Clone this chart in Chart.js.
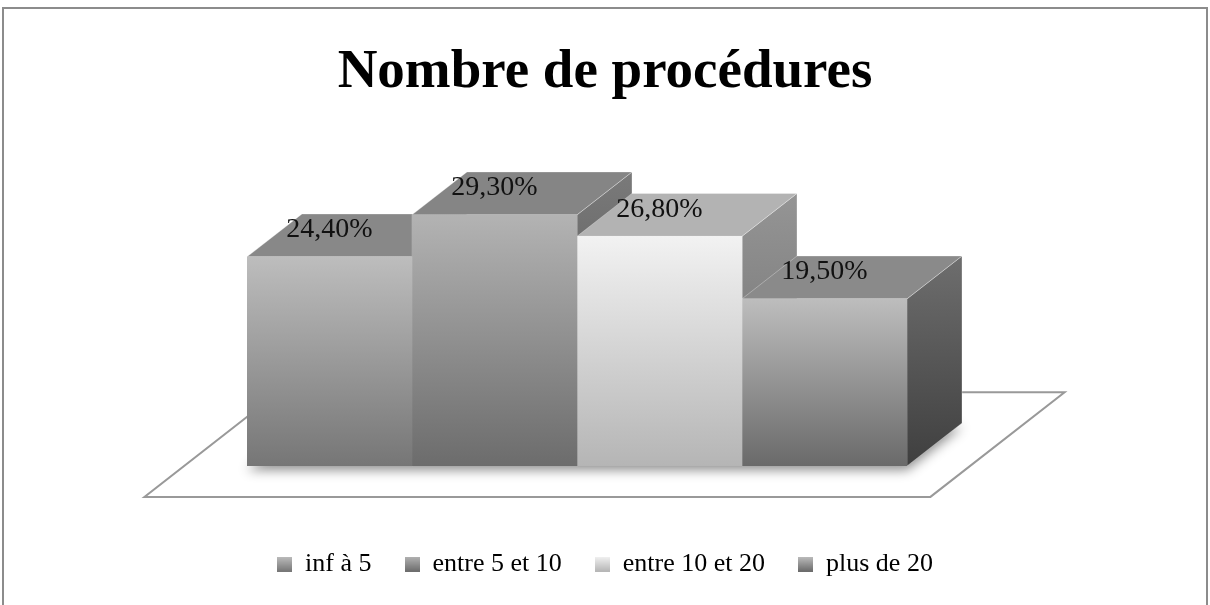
<!DOCTYPE html>
<html>
<head>
<meta charset="utf-8">
<script src="https://cdn.jsdelivr.net/npm/chart.js@4.4.1/dist/chart.umd.min.js"></script>
<style>
  html, body { margin: 0; padding: 0; background: #fff; overflow: hidden; }
</style>
</head>
<body>
<canvas id="chart" width="1210" height="605"></canvas>
<script>
const categories = ['inf à 5', 'entre 5 et 10', 'entre 10 et 20', 'plus de 20'];
const values = [24.4, 29.3, 26.8, 19.5];
const yMax = 35;

// grey shades: front gradient (top, bottom), top face, side gradient
const frontColors = [['#bdbdbd', '#767676'], ['#b3b3b3', '#6c6c6c'], ['#f2f2f2', '#b5b5b5'], ['#bdbdbd', '#6a6a6a']];
const topColors = ['#888888', '#858585', '#b3b3b3', '#8a8a8a'];
const sideColors = [['#7a7a7a', '#4a4a4a'], ['#7a7a7a', '#4a4a4a'], ['#959595', '#6a6a6a'], ['#6e6e6e', '#3f3f3f']];

const serif = "'Liberation Serif', 'Times New Roman', serif";

function fmt(v) {
  return v.toFixed(2).replace('.', ',') + '%';
}

// small gradient square used as legend marker
function marker(i) {
  const c = document.createElement('canvas');
  c.width = 15; c.height = 15;
  const g = c.getContext('2d');
  const grad = g.createLinearGradient(0, 0, 0, 15);
  grad.addColorStop(0, frontColors[i][0]);
  grad.addColorStop(1, frontColors[i][1]);
  g.fillStyle = grad;
  g.fillRect(0, 0, 15, 15);
  return c;
}

function frontGradient(ctx, i) {
  const chart = ctx.chart;
  if (!chart.chartArea) return frontColors[i][1];
  const y = chart.scales.y;
  const top = y.getPixelForValue(values[i]);
  const bottom = y.getPixelForValue(0);
  const g = chart.ctx.createLinearGradient(0, top, 0, bottom);
  g.addColorStop(0, frontColors[i][0]);
  g.addColorStop(1, frontColors[i][1]);
  return g;
}

// draws floor, shadow, top and side faces behind the front faces, then labels
const bar3d = {
  id: 'bar3d',
  beforeDatasetsDraw(chart) {
    const ctx = chart.ctx;
    const bars = chart.data.datasets.map((d, i) => chart.getDatasetMeta(i).data[0]);
    const first = bars[0], last = bars[bars.length - 1];
    const w = first.width;
    const dx = w / 3, dy = dx * 0.78;
    const left = first.x - w / 2, right = last.x + w / 2, base = first.base;

    // floor
    const fx = dx * 0.72, fy = dy * 0.72, m = 63;
    ctx.save();
    ctx.beginPath();
    ctx.moveTo(left - fx - m, base + fy);
    ctx.lineTo(right - fx + m, base + fy);
    ctx.lineTo(right + dx + fx + m, base - dy - fy);
    ctx.lineTo(left + dx + fx - m, base - dy - fy);
    ctx.closePath();
    ctx.fillStyle = '#fff';
    ctx.fill();
    ctx.strokeStyle = '#999';
    ctx.lineWidth = 2;
    ctx.stroke();

    // soft shadow of the bars' footprint
    ctx.shadowColor = 'rgba(0,0,0,0.45)';
    ctx.shadowBlur = 12;
    ctx.shadowOffsetY = 4;
    ctx.beginPath();
    ctx.moveTo(left, base);
    ctx.lineTo(right, base);
    ctx.lineTo(right + dx, base - dy);
    ctx.lineTo(left + dx, base - dy);
    ctx.closePath();
    ctx.fillStyle = '#999';
    ctx.fill();
    ctx.restore();

    bars.forEach((bar, i) => {
      const l = bar.x - bar.width / 2, r = bar.x + bar.width / 2;
      const t = bar.y, b = bar.base;
      ctx.save();
      ctx.strokeStyle = 'rgba(255,255,255,0.3)';
      ctx.lineWidth = 1;
      // side face
      const sg = ctx.createLinearGradient(0, t - dy, 0, b);
      sg.addColorStop(0, sideColors[i][0]);
      sg.addColorStop(1, sideColors[i][1]);
      ctx.beginPath();
      ctx.moveTo(r, t);
      ctx.lineTo(r + dx, t - dy);
      ctx.lineTo(r + dx, b - dy);
      ctx.lineTo(r, b);
      ctx.closePath();
      ctx.fillStyle = sg;
      ctx.fill();
      ctx.stroke();
      // top face
      ctx.beginPath();
      ctx.moveTo(l, t);
      ctx.lineTo(r, t);
      ctx.lineTo(r + dx, t - dy);
      ctx.lineTo(l + dx, t - dy);
      ctx.closePath();
      ctx.fillStyle = topColors[i];
      ctx.fill();
      ctx.stroke();
      ctx.restore();
    });
  },
  afterDatasetsDraw(chart) {
    const ctx = chart.ctx;
    ctx.save();
    ctx.font = '28px ' + serif;
    ctx.fillStyle = '#111';
    ctx.textAlign = 'center';
    ctx.textBaseline = 'middle';
    chart.data.datasets.forEach((d, i) => {
      const bar = chart.getDatasetMeta(i).data[0];
      ctx.fillText(fmt(d.data[0]), bar.x, bar.y - 27);
    });
    ctx.restore();
  },
  afterDraw(chart) {
    const ctx = chart.ctx;
    ctx.save();
    ctx.strokeStyle = '#8c8c8c';
    ctx.lineWidth = 2;
    ctx.strokeRect(3, 8, 1204, 700);
    ctx.restore();
  }
};

new Chart(document.getElementById('chart'), {
  type: 'bar',
  data: {
    labels: [''],
    datasets: categories.map((c, i) => ({
      label: c,
      data: [values[i]],
      backgroundColor: (ctx) => frontGradient(ctx, i),
      borderWidth: 0,
      categoryPercentage: 1,
      barPercentage: 1
    }))
  },
  options: {
    responsive: false,
    animation: false,
    layout: { padding: { top: 0, bottom: 18, left: 0, right: 0 } },
    plugins: {
      title: {
        display: true,
        text: 'Nombre de procédures',
        color: '#000',
        font: { family: serif, size: 55, weight: 'bold' },
        padding: { top: 40, bottom: 60 }
      },
      legend: {
        position: 'bottom',
        labels: {
          usePointStyle: true,
          boxWidth: 15,
          boxHeight: 15,
          padding: 33,
          color: '#000',
          font: { family: serif, size: 26 },
          generateLabels: () => categories.map((c, i) => ({
            text: c,
            pointStyle: marker(i),
            fillStyle: frontColors[i][1],
            strokeStyle: 'transparent',
            lineWidth: 0,
            hidden: false,
            datasetIndex: i,
            fontColor: '#000'
          }))
        }
      },
      tooltip: { enabled: false }
    },
    scales: {
      x: {
        display: true,
        grid: { display: false },
        border: { display: false },
        ticks: { display: false },
        afterFit: (s) => { s.height = 52; }
      },
      y: {
        min: 0,
        max: yMax,
        display: true,
        grid: { display: false },
        border: { display: false },
        ticks: { display: false },
        afterFit: (s) => { s.width = 247; }
      },
      y2: {
        position: 'right',
        display: true,
        grid: { display: false },
        border: { display: false },
        ticks: { display: false },
        afterFit: (s) => { s.width = 303; }
      }
    }
  },
  plugins: [bar3d]
});
</script>
</body>
</html>
